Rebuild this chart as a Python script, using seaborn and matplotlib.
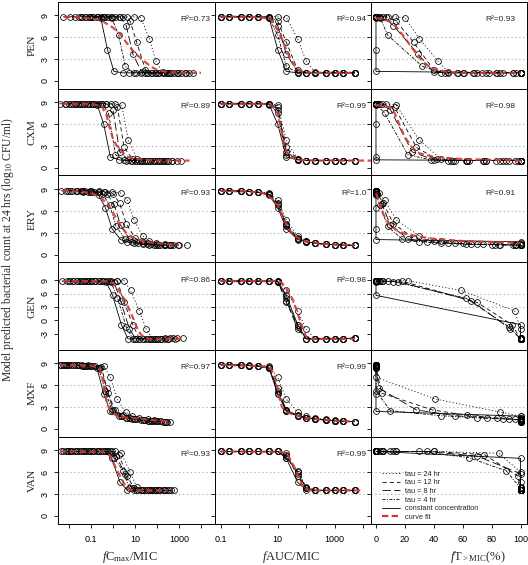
import matplotlib
matplotlib.use("Agg")
import matplotlib.pyplot as plt
from matplotlib.lines import Line2D
from matplotlib.ticker import FixedLocator, FixedFormatter, NullLocator
import pandas as pd
import seaborn as sns

# ------------------------------------------------------------------ data
DRUGS = ["PEN", "CXM", "ERY", "GEN", "MXF", "VAN"]
REGIMENS = ["tau24", "tau12", "tau8", "tau4", "const"]
LEGEND_LABELS = ["tau = 24 hr", "tau = 12 hr", "tau = 8 hr", "tau = 4 hr",
                 "constant concentration", "curve fit"]

# fAUC/MIC of the simulated daily doses (same for every dosing interval)
AUC_MIC = [0.1, 0.2, 0.5, 1, 2, 5, 10, 20, 50, 100, 200, 500, 1000, 2000, 5000]

PEN_CFU = {
    "tau24": [8.8, 8.8, 8.8, 8.8, 8.8, 8.8, 8.8, 8.7, 5.8, 2.7, 1.2, 1.1, 1.1, 1.1, 1.1],
    "tau12": [8.8, 8.8, 8.8, 8.8, 8.8, 8.8, 8.2, 5.3, 1.5, 1.1, 1.1, 1.1, 1.1, 1.1, 1.1],
    "tau8":  [8.8, 8.8, 8.8, 8.8, 8.8, 8.8, 7.6, 3.7, 1.2, 1.1, 1.1, 1.1, 1.1, 1.1, 1.1],
    "tau4":  [8.8, 8.8, 8.8, 8.8, 8.8, 8.6, 6.3, 2.0, 1.1, 1.1, 1.1, 1.1, 1.1, 1.1, 1.1],
    "const": [8.8, 8.8, 8.8, 8.8, 8.8, 8.6, 4.3, 1.3, 1.1, 1.1, 1.1, 1.1, 1.1, 1.1, 1.1],
}
PEN_CMAX = {
    "tau24": [0.089, 0.18, 0.45, 0.89, 1.8, 4.5, 8.9, 18, 45, 89, 180, 450, 890, 1800, 4500],
    "tau12": [0.06, 0.12, 0.3, 0.6, 1.2, 3, 6, 12, 30, 60, 120, 300, 600, 1200, 3000],
    "tau8":  [0.04, 0.08, 0.2, 0.4, 0.8, 2, 4, 8, 20, 40, 80, 200, 400, 800, 2000],
    "tau4":  [0.018, 0.036, 0.089, 0.18, 0.36, 0.89, 1.8, 3.6, 8.9, 18, 36, 89, 180, 360, 890],
    "const": [0.0056, 0.011, 0.028, 0.056, 0.11, 0.28, 0.56, 1.1, 2.8, 5.6, 11, 28, 56, 110, 280],
}
PEN_TMIC = {
    "tau24": [0, 0, 0, 0, 3, 8, 13, 20, 30, 43, 50, 61, 70, 78, 88],
    "tau12": [0, 0, 0, 0, 2, 7, 14, 26, 40, 48, 56, 67, 76, 86, 97],
    "tau8":  [0, 0, 0, 0, 0, 5, 12, 29, 40, 50, 60, 73, 84, 95, 100],
    "tau4":  [0, 0, 0, 0, 0, 3, 8, 32, 45, 57, 68, 83, 95, 100, 100],
    "const": [0, 0, 0, 0, 0, 0, 0, 0, 100, 100, 100, 100, 100, 100, 100],
}

CXM_CFU = {
    "tau24": [8.8, 8.8, 8.8, 8.8, 8.8, 8.8, 8.6, 3.8, 1.2, 1.0, 1.0, 1.0, 1.0, 1.0, 1.0],
    "tau12": [8.8, 8.8, 8.8, 8.8, 8.8, 8.8, 8.3, 2.8, 1.2, 1.0, 1.0, 1.0, 1.0, 1.0, 1.0],
    "tau8":  [8.8, 8.8, 8.8, 8.8, 8.8, 8.8, 8.0, 2.2, 1.1, 1.0, 1.0, 1.0, 1.0, 1.0, 1.0],
    "tau4":  [8.8, 8.8, 8.8, 8.8, 8.8, 8.8, 7.5, 1.8, 1.1, 1.0, 1.0, 1.0, 1.0, 1.0, 1.0],
    "const": [8.8, 8.8, 8.8, 8.8, 8.8, 8.7, 6.0, 1.5, 1.1, 1.0, 1.0, 1.0, 1.0, 1.0, 1.0],
}
CXM_CMAX = {
    "tau24": [0.025, 0.05, 0.125, 0.25, 0.5, 1.25, 2.5, 5, 12.5, 25, 50, 125, 250, 500, 1250],
    "tau12": [0.016, 0.032, 0.08, 0.16, 0.32, 0.8, 1.6, 3.2, 8, 16, 32, 80, 160, 320, 800],
    "tau8":  [0.01, 0.02, 0.05, 0.1, 0.2, 0.5, 1, 2, 5, 10, 20, 50, 100, 200, 500],
    "tau4":  [0.0063, 0.013, 0.032, 0.063, 0.13, 0.32, 0.63, 1.3, 3.2, 6.3, 13, 32, 63, 130, 320],
    "const": [0.0038, 0.0076, 0.019, 0.038, 0.076, 0.19, 0.38, 0.76, 1.9, 3.8, 7.6, 19, 38, 76, 190],
}
CXM_TMIC = {
    "tau24": [0, 0, 0, 0, 2, 7, 14, 30, 45, 55, 64, 74, 83, 92, 100],
    "tau12": [0, 0, 0, 0, 0, 4, 13, 28, 42, 53, 63, 75, 86, 96, 100],
    "tau8":  [0, 0, 0, 0, 0, 2, 10, 25, 40, 52, 63, 76, 88, 98, 100],
    "tau4":  [0, 0, 0, 0, 0, 0, 6, 22, 38, 50, 62, 76, 90, 100, 100],
    "const": [0, 0, 0, 0, 0, 0, 0, 0, 0, 100, 100, 100, 100, 100, 100],
}

ERY_CFU = {
    "tau24": [8.8, 8.8, 8.75, 8.7, 8.65, 8.5, 7.5, 4.8, 2.6, 1.9, 1.65, 1.5, 1.4, 1.35, 1.3],
    "tau12": [8.8, 8.8, 8.75, 8.7, 8.6, 8.4, 7.1, 4.3, 2.3, 1.85, 1.6, 1.45, 1.4, 1.35, 1.3],
    "tau8":  [8.8, 8.8, 8.75, 8.7, 8.6, 8.3, 7.0, 4.1, 2.2, 1.8, 1.6, 1.45, 1.4, 1.35, 1.3],
    "tau4":  [8.8, 8.8, 8.75, 8.7, 8.6, 8.3, 6.8, 3.9, 2.2, 1.8, 1.6, 1.45, 1.4, 1.35, 1.3],
    "const": [8.8, 8.8, 8.75, 8.7, 8.6, 8.2, 6.5, 3.6, 2.1, 1.8, 1.6, 1.45, 1.4, 1.35, 1.3],
}
ERY_CMAX = {
    "tau24": [0.045, 0.09, 0.22, 0.45, 0.9, 2.2, 4.5, 9, 22, 45, 90, 220, 450, 900, 2200],
    "tau12": [0.02, 0.04, 0.1, 0.2, 0.4, 1, 2, 4, 10, 20, 40, 100, 200, 400, 1000],
    "tau8":  [0.011, 0.022, 0.056, 0.11, 0.22, 0.56, 1.1, 2.2, 5.6, 11, 22, 56, 110, 220, 560],
    "tau4":  [0.0071, 0.014, 0.035, 0.071, 0.14, 0.35, 0.71, 1.4, 3.5, 7.1, 14, 35, 71, 140, 350],
    "const": [0.0045, 0.009, 0.022, 0.045, 0.09, 0.22, 0.45, 0.9, 2.2, 4.5, 9, 22, 45, 90, 220],
}
ERY_TMIC = {
    "tau24": [0, 0, 0, 0, 0, 2, 6, 14, 30, 45, 60, 74, 86, 97, 100],
    "tau12": [0, 0, 0, 0, 0, 1, 5, 12, 26, 40, 55, 70, 85, 97, 100],
    "tau8":  [0, 0, 0, 0, 0, 1, 4, 10, 22, 35, 50, 66, 82, 96, 100],
    "tau4":  [0, 0, 0, 0, 0, 0, 3, 8, 18, 30, 45, 62, 80, 95, 100],
    "const": [0, 0, 0, 0, 0, 0, 0, 0, 0, 100, 100, 100, 100, 100, 100],
}

GEN_CFU = {
    "tau24": [8.8, 8.8, 8.8, 8.8, 8.8, 8.8, 8.9, 6.7, 2.1, -2.0, -4.2, -4.2, -4.2, -4.2, -4.0],
    "tau12": [8.8, 8.8, 8.8, 8.8, 8.8, 8.8, 8.8, 4.0, -1.0, -4.2, -4.2, -4.2, -4.2, -4.2, -4.0],
    "tau8":  [8.8, 8.8, 8.8, 8.8, 8.8, 8.8, 8.7, 4.4, -2.0, -4.2, -4.2, -4.2, -4.2, -4.2, -4.0],
    "tau4":  [8.8, 8.8, 8.8, 8.8, 8.8, 8.8, 8.7, 5.0, -1.5, -4.2, -4.2, -4.2, -4.2, -4.2, -4.0],
    "const": [8.8, 8.8, 8.8, 8.8, 8.8, 8.8, 8.7, 5.6, -1.0, -4.2, -4.2, -4.2, -4.2, -4.2, -4.0],
}
GEN_CMAX = {
    "tau24": [0.032, 0.063, 0.16, 0.32, 0.63, 1.6, 3.2, 6.3, 16, 32, 63, 160, 320, 630, 1600],
    "tau12": [0.016, 0.032, 0.08, 0.16, 0.32, 0.8, 1.6, 3.2, 8, 16, 32, 80, 160, 320, 800],
    "tau8":  [0.011, 0.022, 0.056, 0.11, 0.22, 0.56, 1.1, 2.2, 5.6, 11, 22, 56, 110, 220, 560],
    "tau4":  [0.008, 0.016, 0.04, 0.08, 0.16, 0.4, 0.8, 1.6, 4, 8, 16, 40, 80, 160, 400],
    "const": [0.0048, 0.0096, 0.024, 0.048, 0.096, 0.24, 0.48, 0.96, 2.4, 4.8, 9.6, 24, 48, 96, 240],
}
GEN_TMIC = {
    "tau24": [0, 0, 0, 0, 2, 8, 22, 59, 96, 100, 100, 100, 100, 100, 100],
    "tau12": [0, 0, 0, 0, 1, 5, 18, 70, 94, 100, 100, 100, 100, 100, 100],
    "tau8":  [0, 0, 0, 0, 0, 4, 15, 66, 93, 100, 100, 100, 100, 100, 100],
    "tau4":  [0, 0, 0, 0, 0, 3, 12, 62, 92, 100, 100, 100, 100, 100, 100],
    "const": [0, 0, 0, 0, 0, 0, 0, 0, 100, 100, 100, 100, 100, 100, 100],
}

MXF_CFU = {
    "tau24": [8.8, 8.8, 8.8, 8.75, 8.7, 8.6, 7.1, 4.1, 2.3, 1.75, 1.5, 1.3, 1.15, 1.05, 1.0],
    "tau12": [8.8, 8.8, 8.75, 8.7, 8.65, 8.45, 4.9, 2.6, 1.85, 1.5, 1.35, 1.2, 1.1, 1.05, 1.0],
    "tau8":  [8.8, 8.8, 8.75, 8.7, 8.6, 8.4, 5.6, 2.6, 1.8, 1.5, 1.35, 1.2, 1.1, 1.05, 1.0],
    "tau4":  [8.8, 8.8, 8.75, 8.7, 8.6, 8.35, 5.2, 2.5, 1.8, 1.5, 1.35, 1.2, 1.1, 1.05, 1.0],
    "const": [8.8, 8.8, 8.75, 8.7, 8.6, 8.3, 4.8, 2.4, 1.75, 1.5, 1.35, 1.2, 1.1, 1.05, 1.0],
}
MXF_CMAX = {
    "tau24": [0.0076, 0.015, 0.038, 0.076, 0.15, 0.38, 0.76, 1.5, 3.8, 7.6, 15, 38, 76, 150, 380],
    "tau12": [0.006, 0.012, 0.03, 0.06, 0.12, 0.3, 0.6, 1.2, 3, 6, 12, 30, 60, 120, 300],
    "tau8":  [0.0052, 0.01, 0.026, 0.052, 0.1, 0.26, 0.52, 1, 2.6, 5.2, 10, 26, 52, 100, 260],
    "tau4":  [0.0045, 0.009, 0.022, 0.045, 0.09, 0.22, 0.45, 0.9, 2.2, 4.5, 9, 22, 45, 90, 220],
    "const": [0.0038, 0.0076, 0.019, 0.038, 0.076, 0.19, 0.38, 0.76, 1.9, 3.8, 7.6, 19, 38, 76, 190],
}
MXF_TMIC = {
    "tau24": [0, 0, 0, 0, 0, 0, 0, 41, 86, 100, 100, 100, 100, 100, 100],
    "tau12": [0, 0, 0, 0, 0, 0, 4, 39, 63, 84, 96, 100, 100, 100, 100],
    "tau8":  [0, 0, 0, 0, 0, 0, 2, 28, 55, 77, 92, 100, 100, 100, 100],
    "tau4":  [0, 0, 0, 0, 0, 0, 0, 10, 45, 70, 88, 100, 100, 100, 100],
    "const": [0, 0, 0, 0, 0, 0, 0, 0, 100, 100, 100, 100, 100, 100, 100],
}

VAN_CFU = {
    "tau24": [8.85, 8.85, 8.85, 8.85, 8.85, 8.85, 8.85, 8.6, 6.0, 4.0, 3.5, 3.5, 3.5, 3.5, 3.5],
    "tau12": [8.85, 8.85, 8.85, 8.85, 8.85, 8.85, 8.85, 8.4, 5.5, 3.8, 3.5, 3.5, 3.5, 3.5, 3.5],
    "tau8":  [8.85, 8.85, 8.85, 8.85, 8.85, 8.85, 8.85, 8.2, 5.8, 3.8, 3.5, 3.5, 3.5, 3.5, 3.5],
    "tau4":  [8.85, 8.85, 8.85, 8.85, 8.85, 8.85, 8.85, 8.0, 6.2, 3.8, 3.5, 3.5, 3.5, 3.5, 3.5],
    "const": [8.85, 8.85, 8.85, 8.85, 8.85, 8.85, 8.85, 7.9, 4.6, 3.6, 3.5, 3.5, 3.5, 3.5, 3.5],
}
VAN_CMAX = {
    "tau24": [0.012, 0.024, 0.06, 0.12, 0.24, 0.6, 1.2, 2.4, 6, 12, 24, 60, 120, 240, 600],
    "tau12": [0.0089, 0.018, 0.045, 0.089, 0.18, 0.45, 0.89, 1.8, 4.5, 8.9, 18, 45, 89, 180, 450],
    "tau8":  [0.0071, 0.014, 0.035, 0.071, 0.14, 0.35, 0.71, 1.4, 3.5, 7.1, 14, 35, 71, 140, 350],
    "tau4":  [0.0056, 0.011, 0.028, 0.056, 0.11, 0.28, 0.56, 1.1, 2.8, 5.6, 11, 28, 56, 110, 280],
    "const": [0.0043, 0.0086, 0.021, 0.043, 0.086, 0.21, 0.43, 0.86, 2.1, 4.3, 8.6, 21, 43, 86, 210],
}
VAN_TMIC = {
    "tau24": [0, 0, 0, 1, 5, 14, 40, 85, 100, 100, 100, 100, 100, 100, 100],
    "tau12": [0, 0, 0, 1, 5, 14, 40, 75, 98, 100, 100, 100, 100, 100, 100],
    "tau8":  [0, 0, 0, 0, 4, 12, 35, 70, 100, 100, 100, 100, 100, 100, 100],
    "tau4":  [0, 0, 0, 0, 3, 10, 30, 64, 90, 100, 100, 100, 100, 100, 100],
    "const": [0, 0, 0, 0, 0, 0, 0, 100, 100, 100, 100, 100, 100, 100, 100],
}

# curve fits: (x, y) per column (fCmax/MIC, fAUC/MIC, fT>MIC); None = no fit shown
PEN_FIT = [
    ([0.006, 0.03, 0.1, 0.3, 1, 2, 5, 10, 20, 50, 100, 300, 1000, 10000],
     [8.8, 8.75, 8.6, 8.3, 7.3, 6.5, 4.9, 3.8, 3.0, 2.0, 1.5, 1.2, 1.1, 1.1]),
    ([0.1, 1, 3, 6, 10, 15, 20, 30, 45, 70, 150, 500, 5000],
     [8.8, 8.8, 8.7, 8.4, 7.0, 5.5, 4.3, 2.8, 1.7, 1.3, 1.1, 1.1, 1.1]),
    ([0, 5, 10, 15, 20, 25, 30, 35, 40, 50, 60, 80, 100],
     [8.6, 8.5, 8.1, 7.2, 5.9, 4.5, 3.2, 2.2, 1.6, 1.2, 1.1, 1.1, 1.1]),
]
CXM_FIT = [
    ([0.005, 0.1, 0.3, 0.5, 0.73, 1, 1.5, 2.1, 4, 10, 100, 3000],
     [8.8, 8.8, 8.5, 7.3, 5.3, 4.0, 3.0, 2.5, 1.6, 1.2, 1.0, 1.0]),
    ([0.1, 3, 6, 10, 13, 16, 20, 30, 60, 200, 20000],
     [8.8, 8.8, 8.6, 7.5, 5.5, 3.5, 2.3, 1.4, 1.1, 1.0, 1.0]),
    ([0, 5, 10, 13, 16, 20, 25, 30, 40, 60, 100],
     [8.6, 8.5, 8.3, 7.5, 6.0, 4.2, 2.8, 2.0, 1.5, 1.2, 1.0]),
]
ERY_FIT = [
    ([0.005, 0.03, 0.1, 0.3, 0.63, 1, 1.6, 2.5, 4, 10, 30, 100, 300, 1000],
     [8.8, 8.7, 8.5, 7.8, 6.8, 5.8, 4.7, 3.8, 3.0, 2.2, 1.8, 1.6, 1.45, 1.35]),
    ([0.1, 1, 3, 6, 10, 16, 25, 40, 63, 100, 300, 1000, 5000],
     [8.8, 8.7, 8.5, 7.8, 6.8, 5.0, 3.5, 2.6, 2.1, 1.85, 1.55, 1.4, 1.3]),
    ([0, 2, 5, 10, 15, 20, 30, 40, 60, 80, 100],
     [8.5, 7.3, 5.6, 4.0, 3.3, 2.9, 2.5, 2.2, 1.9, 1.75, 1.65]),
]
GEN_FIT = [
    ([0.005, 0.63, 1, 1.7, 3.2, 5.9, 10, 14, 20, 34, 1600],
     [8.8, 8.8, 8.4, 7.0, 4.8, 2.1, -0.5, -2.4, -3.4, -4.2, -4.2]),
    ([0.1, 10, 14, 20, 35, 60, 100, 150, 5000],
     [8.8, 8.8, 8.4, 7.2, 4.5, 0.0, -3.8, -4.2, -4.2]),
    None,
]
MXF_FIT = [
    ([0.004, 0.1, 0.25, 0.36, 0.45, 0.55, 0.75, 1.5, 3, 10, 30, 100, 400],
     [8.8, 8.7, 8.3, 6.8, 4.5, 3.4, 2.6, 1.75, 1.6, 1.45, 1.3, 1.15, 1.0]),
    ([0.1, 3, 6, 9, 11, 14, 20, 50, 100, 300, 1000, 5000],
     [8.8, 8.6, 8.2, 6.5, 4.5, 3.0, 2.3, 1.8, 1.5, 1.3, 1.1, 1.0]),
    None,
]
VAN_FIT = [
    ([0.004, 0.36, 0.72, 1.7, 3.5, 6, 10, 300],
     [8.85, 8.8, 8.3, 6.0, 4.2, 3.6, 3.5, 3.5]),
    ([0.1, 12, 21, 40, 80, 135, 8000],
     [8.85, 8.8, 8.6, 6.5, 3.9, 3.5, 3.5]),
    None,
]

R2 = {
    "PEN": ["0.73", "0.94", "0.93"],
    "CXM": ["0.89", "0.99", "0.98"],
    "ERY": ["0.93", "1.0", "0.91"],
    "GEN": ["0.86", "0.98", None],
    "MXF": ["0.97", "0.99", None],
    "VAN": ["0.93", "0.99", None],
}

CFU = {"PEN": PEN_CFU, "CXM": CXM_CFU, "ERY": ERY_CFU, "GEN": GEN_CFU, "MXF": MXF_CFU, "VAN": VAN_CFU}
CMAX = {"PEN": PEN_CMAX, "CXM": CXM_CMAX, "ERY": ERY_CMAX, "GEN": GEN_CMAX, "MXF": MXF_CMAX, "VAN": VAN_CMAX}
TMIC = {"PEN": PEN_TMIC, "CXM": CXM_TMIC, "ERY": ERY_TMIC, "GEN": GEN_TMIC, "MXF": MXF_TMIC, "VAN": VAN_TMIC}
FITS = {"PEN": PEN_FIT, "CXM": CXM_FIT, "ERY": ERY_FIT, "GEN": GEN_FIT, "MXF": MXF_FIT, "VAN": VAN_FIT}

rows = []
for d in DRUGS:
    for reg in REGIMENS:
        for i, a in enumerate(AUC_MIC):
            rows.append(dict(drug=d, regimen=reg, auc=a, cmax=CMAX[d][reg][i],
                             tmic=TMIC[d][reg][i], cfu=CFU[d][reg][i]))
df = pd.DataFrame(rows)

# ------------------------------------------------------------------ style
sns.set_theme(style="ticks")
plt.rcParams.update({
    "font.family": ["Liberation Sans", "DejaVu Sans"],
    "mathtext.fontset": "custom",
    "mathtext.rm": "Liberation Serif",
    "mathtext.it": "Liberation Serif:italic",
    "mathtext.bf": "Liberation Serif:bold",
    "lines.scale_dashes": False,
    "axes.linewidth": 0.7,
    "axes.edgecolor": "black",
    "xtick.color": "black", "ytick.color": "black",
    "xtick.direction": "out", "ytick.direction": "out",
    "xtick.major.size": 3, "ytick.major.size": 3,
    "xtick.major.width": 0.6, "ytick.major.width": 0.6,
})
SERIF = "Liberation Serif"
RED = "#D23A35"
LS = {"tau24": (0, (0.8, 1.6)), "tau12": (0, (3, 2.2)), "tau8": (0, (6, 2.5)),
      "tau4": (0, (2.2, 1.0, 0.8, 1.0)), "const": "-"}

W, H = 528, 565
COL_X = [58.3, 214.5, 370.7]
COL_W = 156.2
ROW_TOP, ROW_H = 1.5, 87.0

fig = plt.figure(figsize=(W / 100, H / 100), dpi=100)

XCOLS = ["cmax", "auc", "tmic"]
XLIMS = [(0.00327, 41100), (0.0606, 18300), (-3.66, 104.4)]
XTICKS = [[0.01, 0.1, 1, 10, 100, 1000, 10000],
          [0.1, 1, 10, 100, 1000, 10000],
          [0, 20, 40, 60, 80, 100]]
XTICKLABELS = [["", "0.1", "", "10", "", "1000", ""],
               ["0.1", "", "10", "", "1000", ""],
               ["0", "20", "40", "60", "80", "100"]]
R2_X = [0.975, 0.975, 0.925]

for r, d in enumerate(DRUGS):
    for c in range(3):
        left = COL_X[c] / W
        bottom = 1 - (ROW_TOP + (r + 1) * ROW_H) / H
        ax = fig.add_axes([left, bottom, COL_W / W, ROW_H / H])
        ax.set_facecolor("white")
        if c < 2:
            ax.set_xscale("log")
        ax.axhline(3, color="#B5B5B5", lw=0.8, ls=(0, (1, 1.8)), zorder=0)
        ax.axhline(6, color="#B5B5B5", lw=0.8, ls=(0, (1, 1.8)), zorder=0)
        for reg in REGIMENS:
            sub = df[(df["drug"] == d) & (df["regimen"] == reg)]
            sns.lineplot(data=sub, x=XCOLS[c], y="cfu", ax=ax, sort=False,
                         estimator=None, errorbar=None, legend=False,
                         color="black", linewidth=0.6, linestyle=LS[reg],
                         marker="o", markersize=4.2, markerfacecolor="none",
                         markeredgecolor="black", markeredgewidth=0.55, zorder=3)
        fit = FITS[d][c]
        if fit is not None:
            sns.lineplot(x=fit[0], y=fit[1], ax=ax, sort=False, estimator=None,
                         errorbar=None, legend=False, color=RED, linewidth=1.6,
                         linestyle=(0, (4.5, 2.5)), alpha=0.9, zorder=5)
        ax.set_xlim(*XLIMS[c])
        if d == "GEN":
            ax.set_ylim(-6.6, 13.0)
            yt = [-3, 0, 3, 6, 9]
        else:
            ax.set_ylim(-1.05, 10.9)
            yt = [0, 3, 6, 9]
        ax.xaxis.set_major_locator(FixedLocator(XTICKS[c]))
        ax.xaxis.set_minor_locator(NullLocator())
        ax.yaxis.set_minor_locator(NullLocator())
        ax.set_yticks(yt)
        if r == len(DRUGS) - 1:
            ax.xaxis.set_major_formatter(FixedFormatter(XTICKLABELS[c]))
            ax.tick_params(axis="x", labelsize=6.5, pad=5.5)
        else:
            ax.tick_params(axis="x", labelbottom=False)
        if c == 0:
            ax.set_yticklabels([str(v) for v in yt], rotation=90, va="center")
            ax.tick_params(axis="y", labelsize=6.5, pad=3.5)
        else:
            ax.tick_params(axis="y", labelleft=False)
        ax.set_xlabel("")
        ax.set_ylabel("")
        for sp in ax.spines.values():
            sp.set_visible(True)
            sp.set_color("black")
            sp.set_linewidth(0.7)
        if R2[d][c] is not None:
            ax.text(R2_X[c], 0.79, "R\u00b2=" + R2[d][c], transform=ax.transAxes,
                    ha="right", va="center", fontsize=6)
        if d == "VAN" and c == 2:
            handles = [Line2D([], [], color="black", lw=0.6, ls=LS[reg]) for reg in REGIMENS]
            handles.append(Line2D([], [], color=RED, lw=1.6, ls=(0, (4.5, 2.5))))
            ax.legend(handles, LEGEND_LABELS, loc="lower left", bbox_to_anchor=(0.07, 0.03),
                      frameon=False, fontsize=5.3, handlelength=2.5, handletextpad=0.7,
                      labelspacing=0.2, borderpad=0, borderaxespad=0)
    yc = ROW_TOP + (r + 0.5) * ROW_H
    fig.text(32 / W, 1 - yc / H, d, rotation=90, ha="center", va="center",
             fontsize=8.2, family=SERIF)

fig.text(8 / W, 1 - 250 / H, "Model predicted bacterial count at 24 hrs (log$_{10}$ CFU/ml)",
         rotation=90, ha="center", va="center", fontsize=8.3, family=SERIF)
XLAB = [r"$\mathit{f}$C$_{\mathrm{max}}$/MIC", r"$\mathit{f}$AUC/MIC",
        r"$\mathit{f}$T$_{\mathrm{>MIC}}$(%)"]
XLAB_X = [130, 291.5, 478]
for c in range(3):
    fig.text(XLAB_X[c] / W, 1 - 560 / H, XLAB[c], ha="center", va="baseline",
             fontsize=9, family=SERIF)

fig.savefig("out.png", dpi=100)
